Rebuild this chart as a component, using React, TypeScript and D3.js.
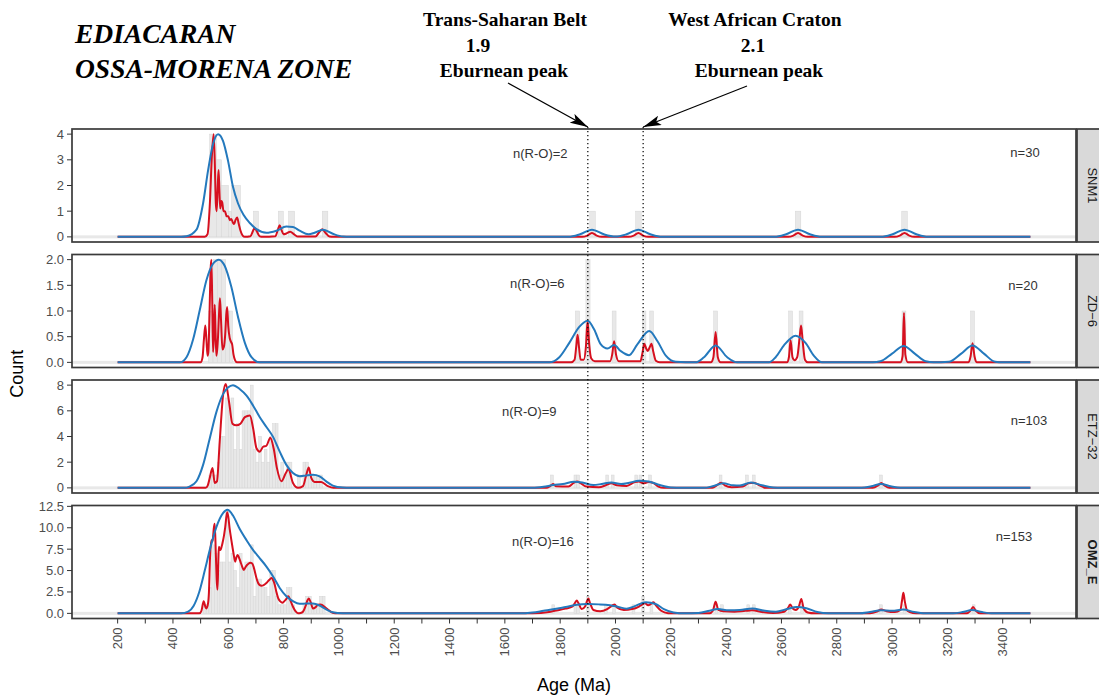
import React from 'react';
import * as d3 from 'd3';

type Pt = [number, number];
type Bin = [number, number, number];

// ---- samples ----
const sampleNames = ['SNM1', 'ZD−6', 'ETZ−32', 'OMZ_E'];
const sampleN = [30, 20, 103, 153];
const sampleNRO = [2, 6, 9, 16];
const countMax = [4, 2, 8, 12];

const yTicks = [
  [0, 1, 2, 3, 4],
  [0, 0.5, 1, 1.5, 2],
  [0, 2, 4, 6, 8],
  [0, 2.5, 5, 7.5, 10, 12.5],
];
const yTickDecimals = [0, 1, 0, 1];

const ageLabelTicks = [200, 400, 600, 800, 1000, 1200, 1400, 1600, 1800, 2000, 2200, 2400, 2600, 2800, 3000, 3200, 3400];
const ageMinorTicks = [300, 500, 700, 900, 1100, 1300, 1500, 1700, 1900, 2100, 2300, 2500, 2700, 2900, 3100, 3300, 3500];
const eburneanAges = [1900, 2100];

// ---- SNM1 ----
const snmHist: Bin[] = [
  [533, 557, 4], [557, 575, 3], [575, 600, 2], [600, 612, 1], [612, 644, 2],
  [691, 709, 1], [781, 799, 1], [818, 840, 1], [940, 960, 1],
  [1907, 1927, 1], [2073, 2093, 1], [2650, 2670, 1], [3035, 3055, 1],
];
const snmPdp: Pt[] = [
  [200, 0], [515, 0], [525, 0.1], [533, 1.2], [541, 3.2], [547, 4.0], [551, 3.0], [555, 1.3], [558, 1.0],
  [562, 2.0], [565, 2.6], [568, 1.8], [571, 1.1], [575, 1.4], [578, 1.35], [583, 1.0], [588, 1.0], [594, 0.8],
  [600, 0.8], [606, 0.65], [611, 0.7], [617, 0.55], [621, 0.5], [626, 0.65], [632, 0.75], [638, 0.5], [644, 0.25],
  [652, 0.05], [660, 0], [680, 0.02], [690, 0.25], [696, 0.35], [703, 0.22], [714, 0.02], [725, 0],
  [770, 0.02], [780, 0.3], [786, 0.45], [793, 0.25], [800, 0.1], [810, 0.13], [824, 0.2], [838, 0.1], [852, 0.01],
  [915, 0.01], [930, 0.2], [940, 0.3], [952, 0.15], [966, 0.01], [980, 0],
  [1880, 0], [1898, 0.05], [1915, 0.15], [1932, 0.05], [1950, 0],
  [2048, 0], [2066, 0.05], [2083, 0.15], [2100, 0.05], [2118, 0],
  [2625, 0], [2643, 0.05], [2660, 0.15], [2677, 0.05], [2695, 0],
  [3010, 0], [3028, 0.05], [3045, 0.15], [3062, 0.05], [3080, 0], [3500, 0],
];
const snmKde: Pt[] = [
  [200, 0], [430, 0], [449, 0.02], [485, 0.28], [509, 1.31], [527, 2.59], [545, 3.62], [563, 4.0], [581, 3.74],
  [599, 2.97], [617, 1.95], [635, 1.31], [655, 0.86], [678, 0.54], [702, 0.3], [738, 0.16], [774, 0.24],
  [810, 0.4], [834, 0.38], [858, 0.24], [890, 0.1], [912, 0.16], [942, 0.28], [978, 0.12], [1015, 0.01], [1040, 0],
  [1830, 0], [1872, 0.1], [1915, 0.28], [1958, 0.1], [2000, 0.01],
  [2040, 0.1], [2083, 0.28], [2126, 0.1], [2168, 0],
  [2575, 0], [2617, 0.1], [2660, 0.28], [2703, 0.1], [2745, 0],
  [2960, 0], [3002, 0.1], [3045, 0.28], [3088, 0.1], [3130, 0], [3500, 0],
];

// ---- ZD-6 ----
const zdHist: Bin[] = [
  [528, 545, 1], [545, 560, 2], [560, 575, 2], [575, 590, 2], [590, 605, 1], [605, 615, 1],
  [1855, 1870, 1], [1893, 1908, 2], [1988, 2002, 1], [2097, 2110, 1], [2124, 2137, 1],
  [2355, 2369, 1], [2626, 2640, 1], [2664, 2678, 1], [3036, 3050, 1], [3284, 3298, 1],
];
const zdPdp: Pt[] = [
  [200, 0], [500, 0], [507, 0.1], [512, 0.45], [517, 0.72], [521, 0.45], [525, 0.13], [528, 0.2], [532, 0.9],
  [536, 1.8], [539, 2.0], [542, 1.2], [545, 0.2], [548, 0.5], [551, 1.12], [554, 0.6], [557, 0.13], [560, 0.25],
  [563, 0.5], [567, 1.0], [570, 1.25], [574, 0.8], [579, 0.25], [584, 0.3], [589, 0.55], [593, 0.95], [596, 1.08],
  [600, 0.7], [605, 0.48], [610, 0.4], [614, 0.35], [619, 0.15], [624, 0.05], [632, 0],
  [1840, 0], [1852, 0.05], [1858, 0.3], [1863, 0.54], [1868, 0.3], [1874, 0.05], [1885, 0.05], [1893, 0.3],
  [1899, 0.8], [1905, 0.35], [1912, 0.08], [1925, 0.02], [1980, 0.02], [1988, 0.15], [1995, 0.41], [2002, 0.15],
  [2012, 0.02], [2090, 0.02], [2098, 0.2], [2104, 0.36], [2111, 0.27], [2117, 0.22], [2124, 0.3], [2130, 0.36],
  [2137, 0.2], [2146, 0.03], [2160, 0],
  [2345, 0], [2354, 0.1], [2362, 0.59], [2370, 0.1], [2380, 0],
  [2620, 0], [2627, 0.1], [2633, 0.43], [2640, 0.1], [2648, 0.04], [2657, 0.1], [2666, 0.5], [2671, 0.72],
  [2677, 0.4], [2685, 0.05], [2695, 0],
  [3030, 0], [3038, 0.12], [3043, 0.96], [3048, 0.15], [3057, 0],
  [3275, 0], [3284, 0.12], [3291, 0.37], [3298, 0.12], [3307, 0], [3500, 0],
];
const zdKde: Pt[] = [
  [200, 0], [425, 0], [449, 0.1], [473, 0.45], [497, 1.02], [521, 1.6], [545, 1.92], [566, 2.0], [587, 1.88],
  [611, 1.47], [635, 0.89], [660, 0.38], [684, 0.1], [714, 0],
  [1761, 0], [1797, 0.1], [1833, 0.38], [1869, 0.69], [1899, 0.81], [1923, 0.64], [1947, 0.35], [1971, 0.27],
  [1995, 0.34], [2019, 0.22], [2049, 0.14], [2079, 0.35], [2122, 0.61], [2152, 0.41], [2182, 0.13], [2218, 0.01],
  [2290, 0], [2320, 0.1], [2362, 0.33], [2404, 0.1], [2440, 0],
  [2555, 0], [2579, 0.1], [2609, 0.33], [2651, 0.52], [2687, 0.38], [2717, 0.13], [2747, 0],
  [2930, 0], [2958, 0.02], [3000, 0.17], [3042, 0.32], [3082, 0.17], [3121, 0.02], [3150, 0],
  [3205, 0.01], [3250, 0.17], [3291, 0.33], [3332, 0.17], [3373, 0.01], [3400, 0], [3500, 0],
];

// ---- ETZ-32 ----
const etzHist: Bin[] = [
  [530, 540, 1], [540, 550, 1], [550, 560, 1], [560, 570, 2], [570, 580, 4], [580, 590, 4], [590, 600, 7],
  [600, 610, 6], [610, 620, 7], [620, 630, 3], [630, 640, 5], [640, 650, 3], [650, 660, 6], [660, 670, 6],
  [670, 680, 6], [680, 690, 8], [690, 700, 3], [700, 710, 2], [710, 720, 4], [720, 730, 2], [730, 740, 3],
  [740, 750, 2], [750, 760, 4], [760, 770, 5], [770, 780, 5], [780, 790, 1], [790, 800, 2], [800, 810, 1],
  [810, 820, 2], [820, 830, 2], [850, 860, 1], [870, 880, 2], [880, 890, 2], [890, 900, 1], [900, 910, 1],
  [910, 920, 1], [920, 930, 1], [930, 940, 1],
  [1765, 1775, 1], [1850, 1860, 1], [1860, 1870, 1], [1965, 1975, 1], [1985, 1995, 1], [2070, 2080, 1],
  [2085, 2095, 1], [2120, 2130, 1], [2375, 2385, 1], [2470, 2480, 1], [2495, 2505, 1], [2955, 2965, 1],
];
const etzPdp: Pt[] = [
  [200, 0], [518, 0], [526, 0.2], [533, 0.77], [543, 1.54], [551, 0.38], [559, 0.5], [569, 3.59], [581, 7.18],
  [591, 8.08], [603, 6.67], [615, 5.0], [629, 4.87], [644, 5.0], [660, 5.51], [678, 5.64], [690, 4.62],
  [702, 3.08], [714, 2.82], [726, 3.2], [738, 3.28], [752, 3.9], [764, 3.08], [776, 1.54], [792, 0.51],
  [808, 1.15], [817, 1.46], [834, 0.38], [852, 0], [870, 0.13], [882, 1.0], [891, 1.59], [900, 0.77],
  [912, 0.46], [936, 0.46], [960, 0.13], [980, 0],
  [1750, 0], [1765, 0.15], [1775, 0.3], [1785, 0.12], [1830, 0.1], [1850, 0.4], [1862, 0.5], [1875, 0.35],
  [1895, 0.1], [1940, 0.05], [1965, 0.2], [1985, 0.35], [2005, 0.2], [2040, 0.15], [2070, 0.45], [2085, 0.5],
  [2100, 0.35], [2120, 0.45], [2135, 0.4], [2155, 0.1], [2175, 0],
  [2350, 0], [2370, 0.25], [2382, 0.4], [2395, 0.2], [2420, 0.05], [2460, 0.1], [2480, 0.35], [2500, 0.4],
  [2520, 0.2], [2545, 0],
  [2930, 0], [2950, 0.2], [2961, 0.38], [2972, 0.2], [2990, 0], [3500, 0],
];
const etzKde: Pt[] = [
  [200, 0], [440, 0], [460, 0.1], [485, 0.51], [509, 1.79], [533, 3.85], [557, 5.9], [581, 7.3], [599, 7.82],
  [617, 8.0], [641, 7.7], [666, 7.18], [690, 6.4], [714, 5.5], [738, 4.74], [762, 3.97], [786, 2.82],
  [810, 1.79], [834, 1.15], [858, 0.9], [882, 0.97], [906, 1.02], [930, 0.9], [954, 0.51], [978, 0.18],
  [1014, 0.02], [1040, 0],
  [1700, 0], [1740, 0.08], [1775, 0.22], [1810, 0.3], [1850, 0.48], [1880, 0.42], [1920, 0.22], [1950, 0.3],
  [1985, 0.42], [2020, 0.3], [2050, 0.4], [2085, 0.55], [2120, 0.5], [2160, 0.22], [2200, 0.03], [2240, 0],
  [2320, 0], [2355, 0.15], [2390, 0.35], [2425, 0.2], [2450, 0.18], [2490, 0.42], [2530, 0.2], [2570, 0.02],
  [2600, 0], [2890, 0], [2925, 0.12], [2960, 0.3], [2995, 0.12], [3030, 0], [3500, 0],
];

// ---- OMZ_E ----
const omzHist: Bin[] = [
  [510, 520, 1], [520, 530, 1], [530, 540, 3], [540, 550, 8], [550, 560, 7], [560, 570, 5], [570, 580, 6],
  [580, 590, 6], [590, 600, 12], [600, 610, 6], [610, 620, 7], [620, 630, 5], [630, 640, 3], [640, 650, 7],
  [650, 660, 5], [660, 670, 6], [670, 680, 6], [680, 690, 8], [690, 700, 2], [700, 710, 4], [710, 720, 4],
  [720, 730, 3], [730, 740, 3], [740, 750, 2], [750, 760, 5], [760, 770, 5], [770, 780, 2], [780, 790, 1],
  [790, 800, 1], [800, 810, 1], [810, 820, 3], [820, 830, 3], [830, 840, 1], [870, 880, 1], [880, 890, 2],
  [890, 900, 2], [900, 910, 1], [910, 920, 1], [920, 930, 1], [930, 940, 2], [940, 950, 2],
  [1770, 1780, 1], [1850, 1860, 1], [1860, 1870, 1], [1895, 1905, 2], [1960, 1970, 1], [1990, 2000, 1],
  [2060, 2070, 1], [2095, 2105, 2], [2125, 2135, 1], [2360, 2370, 1], [2380, 2390, 1], [2475, 2485, 1],
  [2495, 2505, 1], [2625, 2635, 1], [2670, 2680, 1], [2955, 2965, 1], [3040, 3050, 1], [3290, 3300, 1],
];
const omzPdp: Pt[] = [
  [200, 0], [495, 0], [503, 0.3], [511, 1.42], [518, 0.7], [521, 0.58], [527, 1.2], [530, 2.39], [534, 6.5],
  [539, 8.55], [543, 8.4], [548, 10.0], [551, 10.47], [555, 7.0], [558, 4.0], [561, 2.77], [564, 6.0],
  [566, 7.78], [569, 7.5], [572, 7.4], [576, 7.8], [579, 8.2], [584, 9.0], [589, 10.08], [596, 11.82],
  [600, 11.3], [605, 9.9], [610, 8.8], [615, 7.78], [620, 6.8], [625, 6.04], [630, 6.6], [634, 6.81],
  [640, 6.4], [644, 6.04], [650, 5.5], [656, 5.08], [664, 5.5], [672, 5.77], [680, 5.9], [686, 5.85],
  [692, 5.4], [696, 4.89], [702, 4.1], [708, 3.54], [714, 3.3], [720, 3.23], [728, 3.3], [738, 3.54],
  [748, 3.9], [756, 4.12], [762, 3.9], [768, 3.35], [774, 2.5], [780, 1.81], [788, 1.4], [796, 1.23],
  [802, 1.4], [808, 1.6], [817, 2.0], [826, 1.4], [834, 0.77], [843, 0.25], [852, 0.02], [862, 0.05],
  [870, 0.19], [880, 0.9], [886, 1.5], [891, 1.74], [898, 1.3], [906, 0.58], [915, 0.7], [924, 1.0],
  [933, 1.05], [942, 0.92], [950, 0.7], [960, 0.46], [970, 0.2], [980, 0.05], [995, 0],
  [1700, 0], [1760, 0.15], [1780, 0.3], [1820, 0.55], [1845, 0.8], [1855, 1.3], [1860, 1.5], [1866, 1.2],
  [1878, 0.5], [1890, 0.8], [1898, 1.5], [1902, 1.73], [1908, 1.2], [1920, 0.4], [1945, 0.25], [1970, 0.5],
  [1990, 0.95], [1997, 1.04], [2005, 0.7], [2030, 0.4], [2060, 0.5], [2085, 0.8], [2100, 1.1], [2106, 1.2],
  [2118, 0.95], [2128, 1.1], [2137, 1.3], [2147, 0.9], [2165, 0.3], [2190, 0.02], [2220, 0],
  [2340, 0], [2352, 0.3], [2362, 1.35], [2372, 0.4], [2390, 0.25], [2430, 0.2], [2470, 0.3], [2495, 0.35],
  [2530, 0.15], [2570, 0.05], [2610, 0.2], [2625, 0.7], [2632, 1.04], [2640, 0.6], [2652, 0.4], [2663, 0.8],
  [2672, 1.69], [2680, 0.6], [2695, 0.1], [2720, 0],
  [2920, 0], [2945, 0.2], [2961, 0.46], [2980, 0.25], [3010, 0.15], [3030, 0.4], [3036, 1.5], [3041, 2.4],
  [3046, 1.4], [3055, 0.3], [3075, 0.05], [3100, 0],
  [3270, 0], [3283, 0.3], [3293, 0.73], [3303, 0.3], [3318, 0], [3500, 0],
];
const omzKde: Pt[] = [
  [200, 0], [430, 0], [455, 0.2], [475, 0.9], [495, 2.5], [515, 5.0], [533, 7.39], [557, 10.08], [581, 11.7],
  [597, 12.09], [617, 11.43], [641, 9.89], [666, 8.55], [690, 7.39], [714, 6.43], [738, 5.47], [762, 4.31],
  [786, 2.97], [810, 2.0], [834, 1.42], [858, 1.12], [882, 1.15], [906, 1.15], [930, 0.92], [954, 0.46],
  [978, 0.12], [1014, 0.01], [1040, 0],
  [1650, 0], [1700, 0.1], [1740, 0.3], [1780, 0.5], [1820, 0.75], [1860, 1.0], [1900, 1.08], [1940, 1.05],
  [1980, 0.95], [2010, 0.75], [2040, 0.55], [2070, 0.85], [2110, 1.3], [2145, 1.1], [2175, 0.5], [2210, 0.1],
  [2250, 0], [2300, 0.05], [2340, 0.3], [2370, 0.5], [2410, 0.35], [2450, 0.4], [2495, 0.58], [2540, 0.3],
  [2580, 0.2], [2620, 0.5], [2655, 0.75], [2690, 0.6], [2730, 0.15], [2770, 0],
  [2880, 0], [2920, 0.15], [2960, 0.35], [3000, 0.3], [3040, 0.45], [3080, 0.15], [3120, 0],
  [3220, 0], [3255, 0.15], [3290, 0.4], [3325, 0.15], [3360, 0], [3500, 0],
];

const histograms = [snmHist, zdHist, etzHist, omzHist];
const pdpCurves = [snmPdp, zdPdp, etzPdp, omzPdp];
const kdeCurves = [snmKde, zdKde, etzKde, omzKde];

// ---- layout ----
const W = 1099;
const H = 697;
const left = 72;
const right = 1076;
const panelTop = [129, 254.5, 380, 505.5];
const panelH = 113;
const nroPos = [[513, 158], [510, 288], [502, 416], [512, 546]];
const nPos = [[1025, 157], [1023, 290], [1029, 425], [1014, 541]];

const RED = '#D6101F';
const BLUE = '#2479BD';
const sans = '"Liberation Sans", Arial, Helvetica, sans-serif';
const serif = '"Liberation Serif", "Times New Roman", Times, serif';

const x = d3.scaleLinear().domain([35, 3665]).range([left, right]);

function Panel({ i }: { i: number }) {
  const top = panelTop[i];
  const m = countMax[i];
  const y = d3.scaleLinear().domain([-0.05 * m, 1.05 * m]).range([top + panelH, top]);
  const line = d3.line<Pt>().x(d => x(d[0])).y(d => y(d[1])).curve(d3.curveMonotoneX);
  const fmt = d3.format(yTickDecimals[i] ? '.1f' : 'd');
  const clip = `clip-${i}`;
  return (
    <g>
      <defs>
        <clipPath id={clip}>
          <rect x={left} y={top} width={right - left} height={panelH} />
        </clipPath>
      </defs>
      <rect x={left} y={top} width={right - left} height={panelH} fill="#fff" />
      <g clipPath={`url(#${clip})`}>
        <rect x={left} y={y(0) - 1.5} width={right - left} height={3} fill="#E8E8E8" />
        {histograms[i].map((b, k) => (
          <rect key={k} x={x(b[0])} y={y(b[2])} width={x(b[1]) - x(b[0])} height={y(0) - y(b[2])}
            fill="#E8E8E8" stroke="#D6D6D6" strokeWidth={0.5} />
        ))}
        <path d={line(pdpCurves[i]) || ''} fill="none" stroke={RED} strokeWidth={2} strokeLinejoin="round" />
        <path d={line(kdeCurves[i]) || ''} fill="none" stroke={BLUE} strokeWidth={2} strokeLinejoin="round" />
      </g>
      <text x={nroPos[i][0]} y={nroPos[i][1]} fontFamily={sans} fontSize={13} fill="#333">{`n(R-O)=${sampleNRO[i]}`}</text>
      <text x={nPos[i][0]} y={nPos[i][1]} textAnchor="middle" fontFamily={sans} fontSize={13} fill="#333">{`n=${sampleN[i]}`}</text>
      <rect x={left} y={top} width={right - left} height={panelH} fill="none" stroke="#3A3A3A" strokeWidth={1.7} />
      {/* strip */}
      <rect x={right + 1} y={top} width={40} height={panelH} fill="#D9D9D9" stroke="#3A3A3A" strokeWidth={1.7} />
      <text transform={`translate(${1092},${top + panelH / 2}) rotate(90)`} textAnchor="middle" dominantBaseline="central"
        fontFamily={sans} fontSize={13} fill="#1A1A1A" fontWeight={i === 3 ? 'bold' : 'normal'}>{sampleNames[i]}</text>
      {/* y axis */}
      {yTicks[i].map(t => (
        <g key={t}>
          <line x1={left - 5} x2={left} y1={y(t)} y2={y(t)} stroke="#333" strokeWidth={1} />
          <text x={left - 8} y={y(t)} textAnchor="end" dominantBaseline="central" fontFamily={sans} fontSize={13} fill="#4D4D4D">{fmt(t)}</text>
        </g>
      ))}
    </g>
  );
}

export default function App() {
  const bottom = panelTop[3] + panelH;
  return (
    <div style={{ position: 'absolute', left: 0, top: 0, width: W, height: H, background: '#fff' }}>
      <svg width={W} height={H} style={{ display: 'block' }}>
        <defs>
          <marker id="arrow" viewBox="0 0 18 10" refX={18} refY={5} markerWidth={18} markerHeight={10} markerUnits="userSpaceOnUse" orient="auto">
            <path d="M0,0 L18,5 L0,10 L4,5 Z" fill="#000" />
          </marker>
        </defs>
        <rect width={W} height={H} fill="#fff" />
        <text x={75} y={43} fontFamily={serif} fontStyle="italic" fontWeight="bold" fontSize={27.5}>EDIACARAN</text>
        <text x={75} y={78} fontFamily={serif} fontStyle="italic" fontWeight="bold" fontSize={27.5}>OSSA-MORENA ZONE</text>

        <g fontFamily={serif} fontWeight="bold" fontSize={19.5} textAnchor="middle">
          <text x={505} y={26}>Trans-Saharan Belt</text>
          <text x={478} y={52}>1.9</text>
          <text x={504} y={77}>Eburnean peak</text>
          <text x={755} y={26}>West African Craton</text>
          <text x={753} y={52}>2.1</text>
          <text x={759} y={77}>Eburnean peak</text>
        </g>
        <line x1={508} y1={83} x2={x(eburneanAges[0])} y2={127} stroke="#000" strokeWidth={1.2} markerEnd="url(#arrow)" />
        <line x1={747} y1={86} x2={x(eburneanAges[1])} y2={127} stroke="#000" strokeWidth={1.2} markerEnd="url(#arrow)" />

        {sampleNames.map((_, i) => <Panel key={i} i={i} />)}

        {/* x axis */}
        {ageLabelTicks.concat(ageMinorTicks).map(t => (
          <line key={t} x1={x(t)} x2={x(t)} y1={bottom} y2={bottom + 5} stroke="#333" strokeWidth={1} />
        ))}
        {ageLabelTicks.map(t => (
          <text key={t} transform={`translate(${x(t)},${bottom + 9}) rotate(-90)`} textAnchor="end" dominantBaseline="central"
            fontFamily={sans} fontSize={13} fill="#4D4D4D">{t}</text>
        ))}

        {eburneanAges.map(a => (
          <line key={a} x1={x(a)} x2={x(a)} y1={127} y2={bottom} stroke="#000" strokeWidth={1.2} strokeDasharray="1.3 2.7" />
        ))}

        <text x={(left + right) / 2} y={691} textAnchor="middle" fontFamily={sans} fontSize={18} fill="#000">Age (Ma)</text>
        <text transform={`translate(23,${(panelTop[0] + bottom) / 2}) rotate(-90)`} textAnchor="middle" fontFamily={sans} fontSize={18} fill="#000">Count</text>
      </svg>
    </div>
  );
}
